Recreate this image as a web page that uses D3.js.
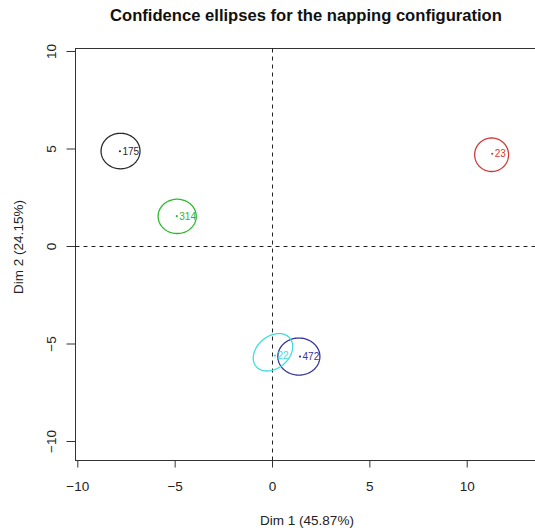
<!DOCTYPE html>
<html>
<head>
<meta charset="utf-8">
<script src="https://cdn.jsdelivr.net/npm/d3@7"></script>
<style>
  html, body { margin: 0; padding: 0; background: #fff; }
  svg { display: block; font-family: "Liberation Sans", Arial, sans-serif; }
</style>
</head>
<body>
<svg id="chart" width="535" height="531"></svg>
<script>
// Products and their coordinates on the first two dimensions
const products = ["175", "23", "314", "472", "22"];
const dim1 = [-7.81, 11.31, -4.89, 1.44, 0.15];
const dim2 = [4.86, 4.73, 1.53, -5.67, -5.62];

// Confidence ellipse parameters: centre, semi-axes (data units), rotation (degrees)
const ellCx = [-7.78, 11.28, -4.87, 1.38, 0.05];
const ellCy = [4.87, 4.68, 1.52, -5.67, -5.45];
const ellA = [1.00, 0.87, 0.98, 1.08, 1.13];
const ellB = [0.91, 0.86, 0.88, 0.95, 0.82];
const ellAngle = [0, 0, 0, 0, 40];

const colors = ["#2b2b2b", "#d03a3a", "#2cba2c", "#34349c", "#3ddede"];

const xTicks = [-10, -5, 0, 5, 10];
const yTicks = [-10, -5, 0, 5, 10];

const title = "Confidence ellipses for the napping configuration";
const xTitle = "Dim 1 (45.87%)";
const yTitle = "Dim 2 (24.15%)";

const svg = d3.select("#chart");

// plot region
const box = { left: 75.5, top: 48.5, right: 538.5, bottom: 460.5 };

const x = d3.scaleLinear().domain([-10, 10]).range([77.3, 466.7]);
const y = d3.scaleLinear().domain([-10, 10]).range([441, 51]);

// title
svg.append("text")
  .attr("x", 306).attr("y", 21)
  .attr("text-anchor", "middle")
  .attr("font-size", "16.6px").attr("font-weight", "bold")
  .attr("fill", "#111")
  .text(title);

// frame
svg.append("rect")
  .attr("x", box.left).attr("y", box.top)
  .attr("width", box.right - box.left).attr("height", box.bottom - box.top)
  .attr("fill", "none").attr("stroke", "#333").attr("stroke-width", 1);

// axes
const xAxis = d3.axisBottom(x).tickValues(xTicks).tickSize(7).tickPadding(14);
const gx = svg.append("g").attr("transform", `translate(0,${box.bottom})`).call(xAxis);
gx.select(".domain").attr("d", `M${x(-10)},0H${x(10)}`).attr("stroke", "#333");
gx.selectAll(".tick line").attr("stroke", "#333");
gx.selectAll(".tick text").attr("font-size", "13.5px").attr("fill", "#222")
  .attr("font-family", "'Liberation Sans', Arial, sans-serif")
  .attr("dy", "0.71em");

const yAxis = d3.axisLeft(y).tickValues(yTicks).tickSize(9).tickPadding(0);
const gy = svg.append("g").attr("transform", `translate(${box.left},0)`).call(yAxis);
gy.select(".domain").attr("d", `M0,${y(-10)}V${y(10)}`).attr("stroke", "#333");
gy.selectAll(".tick line").attr("stroke", "#333");
gy.selectAll(".tick text")
  .attr("font-size", "13.5px").attr("fill", "#222")
  .attr("font-family", "'Liberation Sans', Arial, sans-serif")
  .attr("text-anchor", "middle")
  .attr("x", null).attr("dy", null)
  .attr("transform", "translate(-24,0) rotate(-90)")
  .attr("dy", "0.35em");

// axis titles
svg.append("text")
  .attr("x", 307).attr("y", 525)
  .attr("text-anchor", "middle")
  .attr("font-size", "13.5px").attr("fill", "#222")
  .text(xTitle);

svg.append("text")
  .attr("transform", `translate(18,247) rotate(-90)`)
  .attr("text-anchor", "middle").attr("dy", "0.35em")
  .attr("font-size", "13.5px").attr("fill", "#222")
  .text(yTitle);

// reference lines through the origin
svg.append("line")
  .attr("x1", Math.round(x(0)) + 0.5).attr("x2", Math.round(x(0)) + 0.5)
  .attr("y1", box.top).attr("y2", box.bottom)
  .attr("stroke", "#222").attr("stroke-dasharray", "4,4");
svg.append("line")
  .attr("x1", box.left).attr("x2", box.right)
  .attr("y1", Math.round(y(0)) + 0.5).attr("y2", Math.round(y(0)) + 0.5)
  .attr("stroke", "#222").attr("stroke-dasharray", "4,4");

// ellipses
const line = d3.line().x(d => x(d[0])).y(d => y(d[1])).curve(d3.curveLinearClosed);
const angles = d3.range(0, 360, 3);
products.forEach((p, i) => {
  const th = ellAngle[i] * Math.PI / 180;
  const pts = angles.map(deg => {
    const t = deg * Math.PI / 180;
    const u = ellA[i] * Math.cos(t), v = ellB[i] * Math.sin(t);
    return [ellCx[i] + u * Math.cos(th) - v * Math.sin(th),
            ellCy[i] + u * Math.sin(th) + v * Math.cos(th)];
  });
  svg.append("path")
    .attr("d", line(pts))
    .attr("fill", "none")
    .attr("stroke", colors[i])
    .attr("stroke-width", 1.3);
});

// product points and labels
const g = svg.append("g");
products.forEach((p, i) => {
  g.append("circle")
    .attr("cx", x(dim1[i])).attr("cy", y(dim2[i]))
    .attr("r", 1.1).attr("fill", colors[i]);
  g.append("text")
    .attr("x", x(dim1[i]) + 2.5).attr("y", y(dim2[i]))
    .attr("dy", "0.35em")
    .attr("font-size", "10px")
    .attr("fill", colors[i])
    .text(p);
});
</script>
</body>
</html>
